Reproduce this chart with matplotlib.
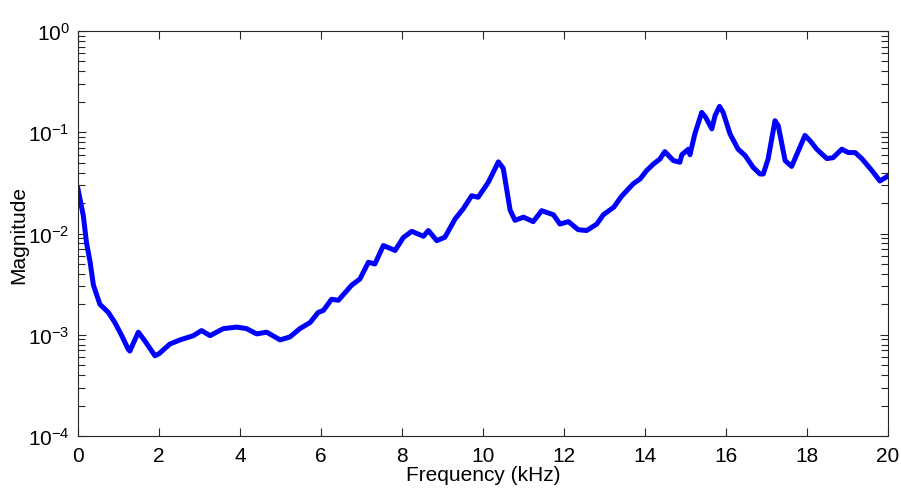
import numpy as np
import matplotlib
matplotlib.use("Agg")
import matplotlib.pyplot as plt
from matplotlib.ticker import LogLocator

plt.rcParams['font.family'] = ['Liberation Sans', 'DejaVu Sans']
plt.rcParams['mathtext.default'] = 'regular'

# frequency (kHz) and magnitude
freq = [0.00, 0.13, 0.21, 0.30, 0.38, 0.54, 0.75, 0.91, 1.08, 1.24, 1.28, 1.49, 1.65, 1.90,
        2.00, 2.27, 2.52, 2.85, 3.05, 3.26, 3.59, 3.92, 4.16, 4.41, 4.66, 4.99, 5.23, 5.48,
        5.73, 5.93, 6.06, 6.26, 6.43, 6.76, 6.96, 7.17, 7.33, 7.54, 7.83, 8.03, 8.24, 8.53,
        8.65, 8.86, 9.06, 9.31, 9.51, 9.72, 9.88, 10.13, 10.38, 10.50, 10.67, 10.79, 11.00,
        11.24, 11.45, 11.74, 11.90, 12.11, 12.35, 12.56, 12.81, 12.97, 13.23, 13.42, 13.71,
        13.88, 14.04, 14.21, 14.37, 14.49, 14.70, 14.86, 14.91, 15.07, 15.11, 15.23, 15.40,
        15.50, 15.65, 15.73, 15.84, 15.93, 16.10, 16.30, 16.47, 16.67, 16.84, 16.92, 17.04,
        17.21, 17.29, 17.46, 17.62, 17.79, 17.95, 18.07, 18.24, 18.49, 18.64, 18.86, 19.02,
        19.19, 19.35, 19.60, 19.80, 20.00]
mag = [0.0275, 0.0151, 0.0081, 0.0052, 0.0031, 0.0020, 0.00166, 0.00132, 0.00098, 0.00072,
       0.00069, 0.00106, 0.00087, 0.00062, 0.00065, 0.00081, 0.00089, 0.00098, 0.0011,
       0.00098, 0.00115, 0.00119, 0.00115, 0.00102, 0.00106, 0.00089, 0.00095, 0.00115,
       0.00132, 0.00166, 0.00174, 0.00224, 0.00219, 0.0031, 0.00355, 0.0052, 0.0050, 0.0076,
       0.0068, 0.0091, 0.0105, 0.0094, 0.0107, 0.0085, 0.0092, 0.0139, 0.0175, 0.0236,
       0.0228, 0.032, 0.051, 0.044, 0.017, 0.0135, 0.0145, 0.0131, 0.0168, 0.0153, 0.0124,
       0.0131, 0.0109, 0.0107, 0.0124, 0.0153, 0.0182, 0.0233, 0.031, 0.0346, 0.0418,
       0.0486, 0.0545, 0.0644, 0.0525, 0.0506, 0.060, 0.068, 0.060, 0.096, 0.157, 0.14,
       0.108, 0.146, 0.18, 0.157, 0.096, 0.068, 0.059, 0.045, 0.0387, 0.0387, 0.0545, 0.130,
       0.116, 0.0525, 0.046, 0.066, 0.093, 0.083, 0.068, 0.055, 0.056, 0.068, 0.063, 0.063,
       0.055, 0.042, 0.033, 0.037]

fig = plt.figure(figsize=(9.01, 4.89), dpi=100)
ax = fig.add_axes([78 / 901, 52 / 489, 810 / 901, 405 / 489])

ax.semilogy(freq, mag, color='#0000ff', linewidth=3.6, solid_joinstyle='round')

ax.set_xlim(0, 20)
ax.set_ylim(1e-4, 1)
ax.set_xticks(np.arange(0, 21, 2))
ax.yaxis.set_major_locator(LogLocator(base=10, numticks=10))
ax.yaxis.set_minor_locator(LogLocator(base=10, subs=np.arange(2, 10), numticks=10))

ax.tick_params(which='both', direction='in', top=True, right=True,
               labelsize=15, colors='#262626', labelcolor='black')
ax.tick_params(which='major', length=6, width=0.8)
ax.tick_params(which='minor', length=5, width=0.8)
ax.tick_params(axis='x', which='major', pad=7)
ax.tick_params(axis='y', which='major', pad=6)
for s in ax.spines.values():
    s.set_color('#262626')
    s.set_linewidth(0.8)

ax.set_xlabel('Frequency (kHz)', fontsize=15, labelpad=0)
ax.set_ylabel('Magnitude', fontsize=15, labelpad=0)

fig.savefig('out.png', dpi=100)
